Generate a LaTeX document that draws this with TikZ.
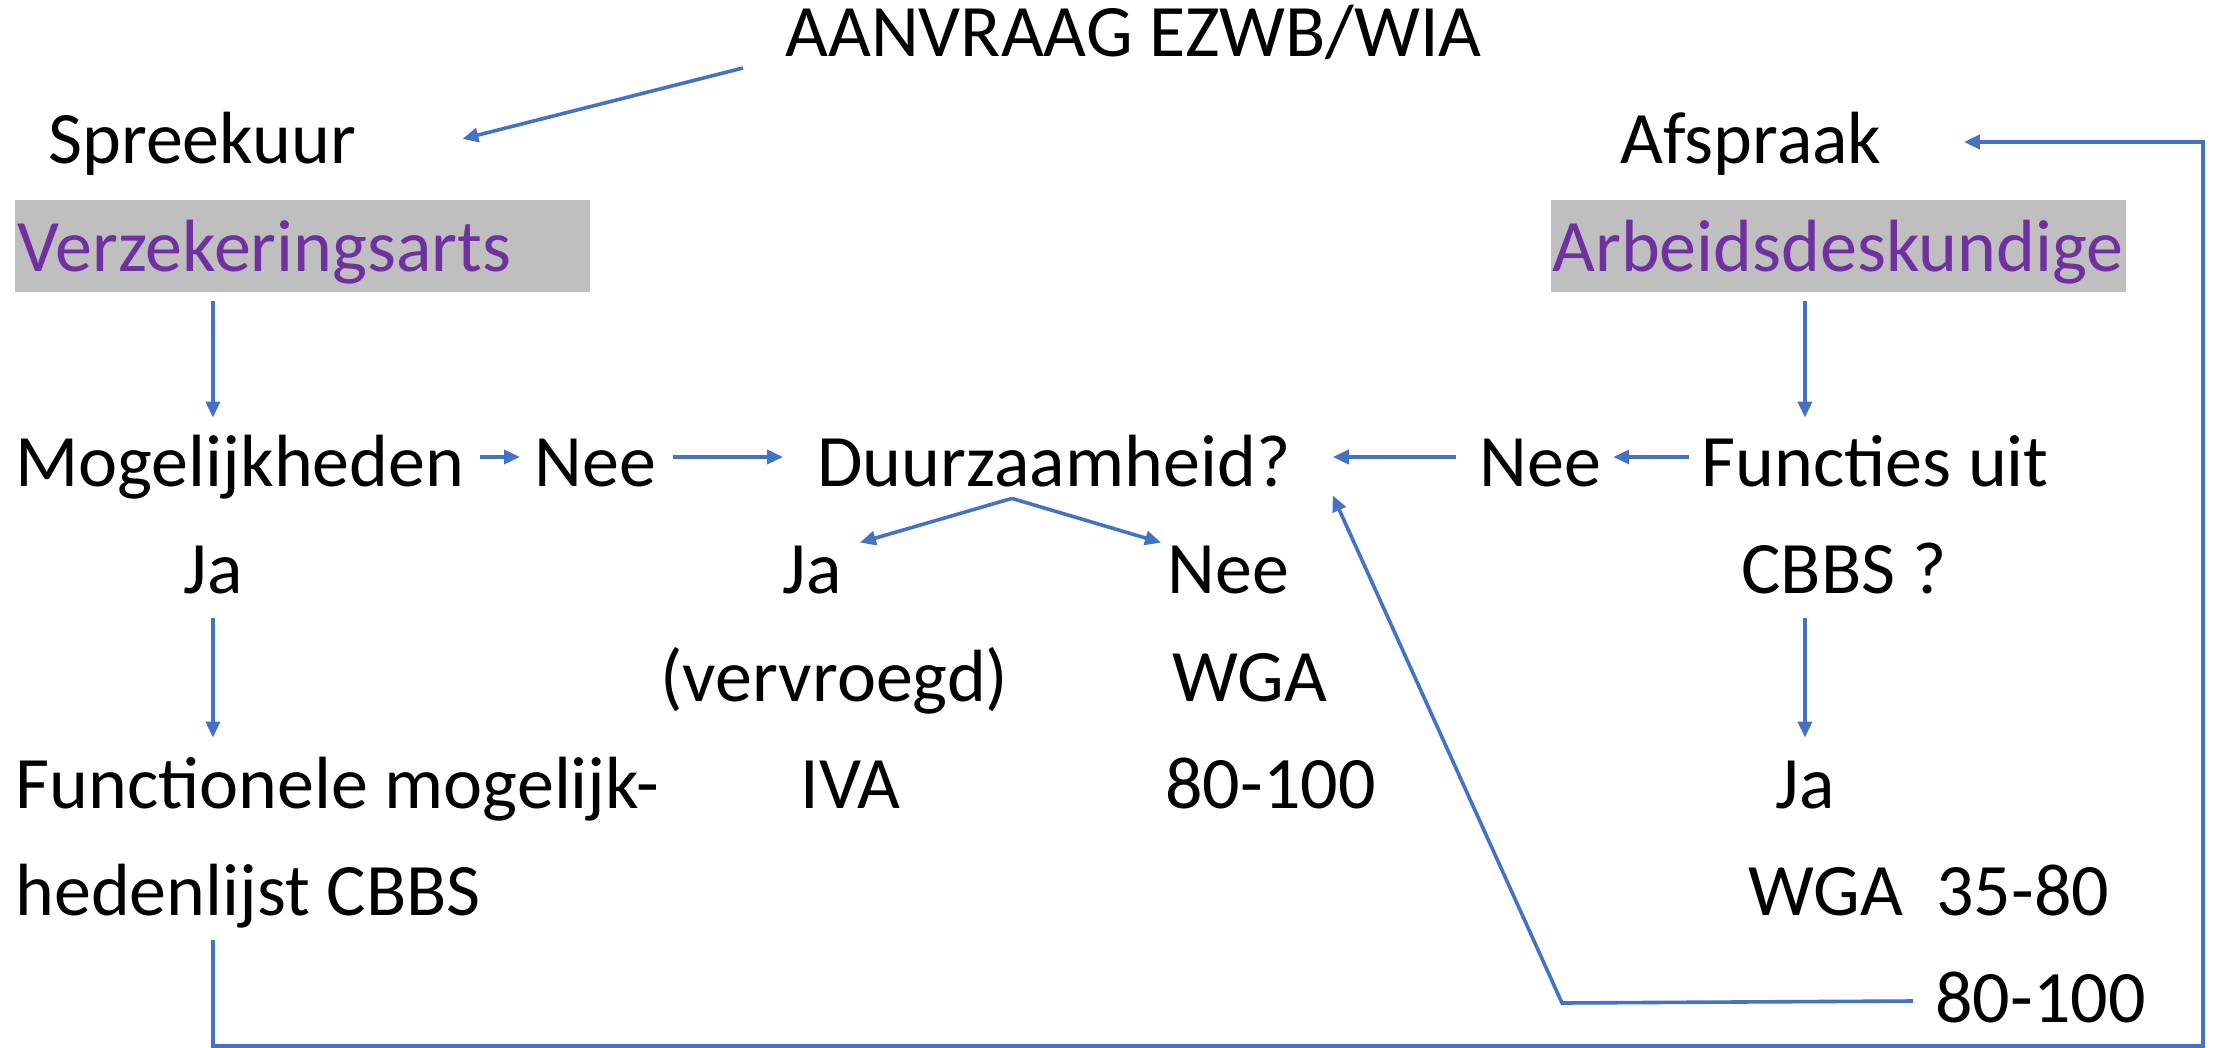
\documentclass[tikz,border=0pt]{standalone}
\usepackage{fontspec}
\setmainfont{Carlito}
\usepackage{xcolor}
\definecolor{lblue}{RGB}{68,114,196}
\definecolor{lpurple}{RGB}{112,48,160}
\definecolor{lgray}{RGB}{191,191,191}
\usetikzlibrary{positioning, calc, arrows.meta}
\tikzstyle{Label} = [
inner sep=0pt,
anchor=base west,
text height=29pt, text depth=0pt,
font=\fontsize{37}{44}\selectfont]
\tikzstyle{Role} = [Label, text=lpurple]
\tikzstyle{Box} = [
fill=lgray, inner sep=0pt,
minimum width=287.5pt, minimum height=46pt,
anchor=north west]
\tikzstyle{Arrow} = [
line width=1.8pt,
lblue,
-{Triangle[length=8pt, width=7pt]}]

\begin{document}
\begin{tikzpicture}[x=0.5pt, y=-0.5pt]
    \useasboundingbox (0,0) rectangle (2219,1048);

    \node [Box] (vabox) at (15,200) {};
    \node [Box] (adbox) at (1551,200) {};

    \node [Label] (aanvraag) at (785,57) {AANVRAAG EZWB/WIA};
    \node [Label] (spreekuur) at (48,164) {Spreekuur};
    \node [Label] (afspraak) at (1620,164) {Afspraak};
    \node [Role] (verz) at (17,271) {Verzekeringsarts};
    \node [Role] (arbeid) at (1552,271) {Arbeidsdeskundige};

    \node [Label] (mog) at (15,486) {Mogelijkheden};
    \node [Label] (nee1) at (534,486) {Nee};
    \node [Label] (duur) at (817,486) {Duurzaamheid?};
    \node [Label] (nee2) at (1479,486) {Nee};
    \node [Label] (functies) at (1701,486) {Functies uit};

    \node [Label] (ja1) at (183,593) {Ja};
    \node [Label] (ja2) at (782,593) {Ja};
    \node [Label] (nee3) at (1167,593) {Nee};
    \node [Label] (cbbs) at (1741,593) {CBBS ?};

    \node [Label] (vervroegd) at (660,701) {(vervroegd)};
    \node [Label] (wga) at (1172,701) {WGA};

    \node [Label] (functionele) at (15,808) {Functionele mogelijk-};
    \node [Label] (iva) at (800,808) {IVA};
    \node [Label] (pct1) at (1165,808) {80-100};
    \node [Label] (ja3) at (1775,808) {Ja};

    \node [Label] (heden) at (15,915) {hedenlijst CBBS};
    \node [Label] (wga2) at (1748,915) {WGA\ \ 35-80};

    \node [Label] (pct2) at (1935,1022) {80-100};

    \coordinate (split) at ([xshift=-21pt, yshift=-6pt]duur.south);
    \coordinate (knee) at (1562,1003);
    \coordinate (corner) at (2203,1046);

    \draw[Arrow] ([xshift=-21pt, yshift=-20pt]aanvraag.west) -- ([xshift=53pt, yshift=-2pt]spreekuur.east);
    \draw[Arrow, shorten <=4pt, shorten >=5pt] (vabox.south -| ja1) -- (mog.north -| ja1);
    \draw[Arrow, shorten <=7.5pt, shorten >=7pt] (mog) -- (nee1);
    \draw[Arrow, shorten <=8.5pt, shorten >=17pt] (nee1) -- (duur);
    \draw[Arrow, shorten <=4pt, shorten >=5pt] (adbox.south -| ja3) -- (functies.north -| ja3);
    \draw[Arrow, shorten <=6pt, shorten >=6pt] (functies) -- (nee2);
    \draw[Arrow, shorten <=11.5pt, shorten >=21pt] (nee2) -- (duur);
    \draw[Arrow] (split) -- ([xshift=9pt, yshift=-4pt]ja2.north east);
    \draw[Arrow] (split) -- ([xshift=-3pt, yshift=-4pt]nee3.north west);
    \draw[Arrow, shorten <=12.5pt, shorten >=6pt] (ja1.south) -- (ja1.south |- functionele.north);
    \draw[Arrow, shorten <=12.5pt, shorten >=6pt] (cbbs.south -| ja3) -- (ja3.north);
    \draw[Arrow] ([xshift=-11pt, yshift=-4pt]pct2.west) -- (knee) -- ([xshift=21pt, yshift=-4.5pt]duur.south east);
    \draw[Arrow, shorten <=12.5pt, shorten >=41pt] (heden.south -| ja1) |- (corner) |- ([yshift=-3.5pt]afspraak.east);
\end{tikzpicture}
\end{document}
